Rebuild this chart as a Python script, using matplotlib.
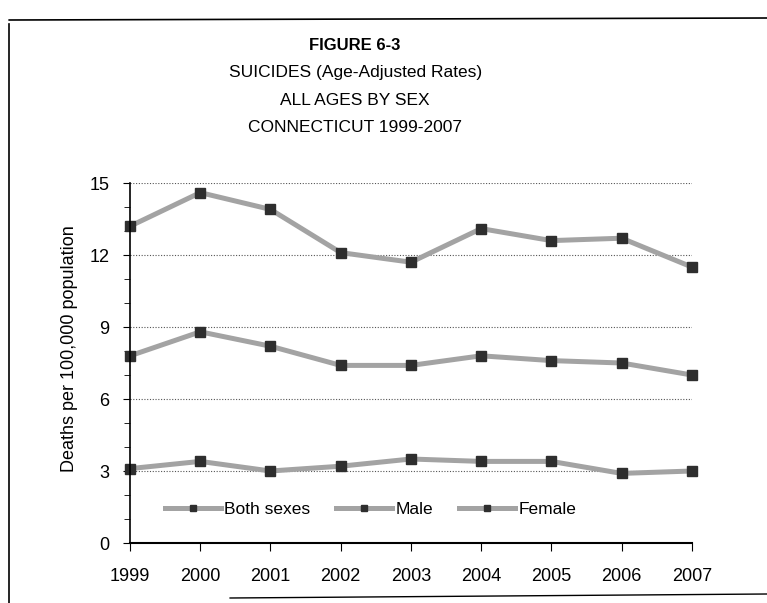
import matplotlib
matplotlib.use("Agg")
import matplotlib.pyplot as plt
from matplotlib.lines import Line2D

plt.rcParams['font.family'] = ['Liberation Sans', 'DejaVu Sans']

# data
years = ['1999', '2000', '2001', '2002', '2003', '2004', '2005', '2006', '2007']
both_sexes = [7.8, 8.8, 8.2, 7.4, 7.4, 7.8, 7.6, 7.5, 7.0]
male = [13.2, 14.6, 13.9, 12.1, 11.7, 13.1, 12.6, 12.7, 11.5]
female = [3.1, 3.4, 3.0, 3.2, 3.5, 3.4, 3.4, 2.9, 3.0]
y_ticks = [0, 3, 6, 9, 12, 15]

fig = plt.figure(figsize=(7.67, 6.03), dpi=100)
ax = fig.add_axes([0.1695, 0.0995, 0.7325, 0.597])

x = list(range(len(years)))
style = dict(color='#a3a3a3', linewidth=3.6, marker='s', markersize=7,
             markerfacecolor='#2e2e2e', markeredgecolor='#2e2e2e', clip_on=False)
ax.plot(x, both_sexes, label='Both sexes', **style)
ax.plot(x, male, label='Male', **style)
ax.plot(x, female, label='Female', **style)

ax.set_xlim(0, len(years) - 1)
ax.set_ylim(0, 15)
ax.set_xticks(x)
ax.set_xticklabels(years, fontsize=13)
ax.set_yticks(y_ticks)
ax.set_yticks(range(0, 16), minor=True)
ax.tick_params(axis='y', which='major', labelsize=13, length=5, pad=10)
ax.tick_params(axis='y', which='minor', length=4)
ax.tick_params(axis='x', length=6, pad=12)

ax.grid(axis='y', linestyle=(0, (1, 1.5)), color='#555555', linewidth=0.8)
ax.set_axisbelow(True)
for side in ['top', 'right']:
    ax.spines[side].set_visible(False)
ax.spines['left'].set_linewidth(1.2)
ax.spines['bottom'].set_linewidth(1.5)

ax.set_ylabel('Deaths per 100,000 population', fontsize=13)
ax.yaxis.set_label_coords(-0.092, 0.54)

ax.legend(loc='lower left', bbox_to_anchor=(0.035, 0.03), ncol=3, frameon=False,
          fontsize=12.5, handlelength=3.2, handletextpad=0.2, columnspacing=1.5,
          markerscale=0.6)

titles = ['SUICIDES (Age-Adjusted Rates)', 'ALL AGES BY SEX', 'CONNECTICUT 1999-2007']
fig.text(0.463, 1 - 46 / 603, 'FIGURE 6-3', ha='center', va='center',
         fontsize=12, fontweight='bold')
for i, t in enumerate(titles):
    fig.text(0.463, 1 - (73 + 27.5 * i) / 603, t, ha='center', va='center', fontsize=12.5)

# scanned page frame
fig.add_artist(Line2D([0.012, 1.0], [1 - 20 / 603, 1 - 18 / 603], color='black', linewidth=1.2))
fig.add_artist(Line2D([0.012, 0.012], [1 - 24 / 603, 0.0], color='black', linewidth=1.2))
fig.add_artist(Line2D([0.3, 1.0], [1 - 598 / 603, 1 - 594 / 603], color='black', linewidth=1.0))

fig.savefig('out.png', dpi=100)
